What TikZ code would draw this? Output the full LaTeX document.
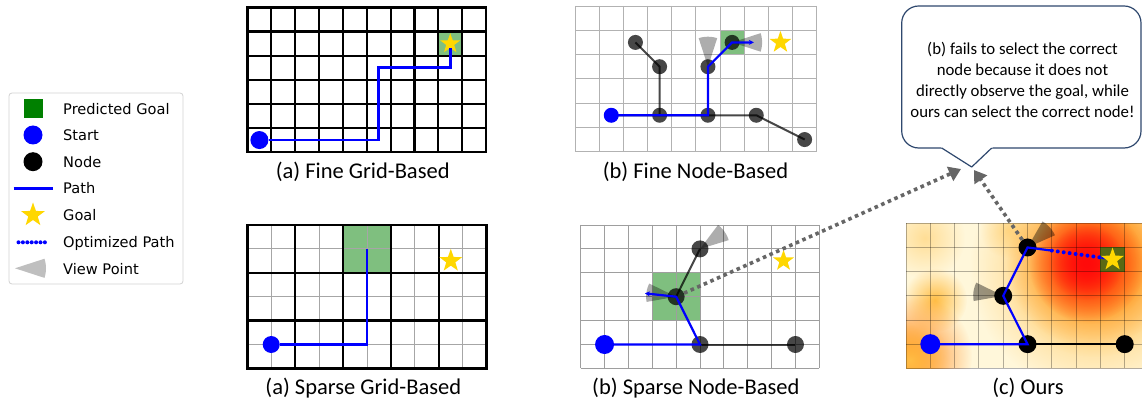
\documentclass[tikz,border=0pt]{standalone}
\usepackage{fontspec}
\newfontfamily\calibfont{Carlito}
\newfontfamily\legendfont{DejaVu Sans}
\usetikzlibrary{shapes.geometric,arrows.meta,fadings}

\definecolor{goalgreen}{RGB}{0,128,0}
\definecolor{startblue}{RGB}{0,0,255}
\definecolor{stargold}{RGB}{255,215,0}
\definecolor{linkgray}{RGB}{102,102,102}
\definecolor{bubbleblue}{RGB}{47,72,110}
\definecolor{legendframe}{RGB}{210,210,210}
\definecolor{heatbase}{RGB}{255,247,218}
\definecolor{heatpale}{RGB}{255,222,150}
\definecolor{heatwarm}{RGB}{255,190,70}
\definecolor{heatorange}{RGB}{255,130,15}
\definecolor{heatred}{RGB}{255,10,10}
\definecolor{heatgoal}{RGB}{90,105,20}

\tikzfading[name=softblob, inner color=transparent!0, outer color=transparent!100]

% field-of-view wedge: [extra style]{apex}{direction, counter-clockwise}{radius}
% (the picture's y axis points down, so the polar angles are negated)
\newcommand\viewcone[4][]{%
  \fill[conefill,#1] (#2.center) -- +(-#3-18:#4) -- +(-#3-12:#4) -- +(-#3-6:#4)
    -- +(-#3:#4) -- +(-#3+6:#4) -- +(-#3+12:#4) -- +(-#3+18:#4) -- cycle;}

\tikzset{
  gridbold/.style={line width=2.2pt, line cap=rect},
  gridbolder/.style={line width=2.5pt, line cap=rect},
  gridfaint/.style={draw=black!35, line width=0.9pt},
  gridlight/.style={draw=black!30, line width=0.9pt},
  gridheat/.style={draw=black, draw opacity=0.3, line width=0.9pt},
  goalcell/.style={fill=goalgreen, fill opacity=0.5},
  startdot/.style={circle, fill=startblue, inner sep=0pt, minimum size=18pt},
  graynode/.style={circle, fill=black, fill opacity=0.72, inner sep=0pt, minimum size=15pt},
  blacknode/.style={circle, fill=black, inner sep=0pt, minimum size=18pt},
  goalstar/.style={star, star points=5, star point ratio=2.5, fill=stargold, inner sep=0pt, minimum size=22pt},
  edgegray/.style={draw=black, draw opacity=0.72, line width=2pt},
  edgeblack/.style={draw=black, line width=2pt},
  bluepath/.style={draw=startblue, line width=2.2pt},
  bluearrow/.style={bluepath, -{Stealth[length=5pt,width=5pt]}},
  optpath/.style={draw=startblue, line width=4pt, line cap=round, dash pattern=on 0pt off 6pt},
  conefill/.style={fill=black, fill opacity=0.32},
  linkarrow/.style={draw=linkgray, line width=3.6pt, dash pattern=on 3.6pt off 3.6pt,
    -{Triangle[length=12pt,width=15pt]}},
  paneltitle/.style={font=\calibfont\fontsize{22.5pt}{26pt}\selectfont, anchor=base, inner sep=0pt},
  legendtext/.style={font=\legendfont\fontsize{14.6pt}{17pt}\selectfont, anchor=base west, inner sep=0pt},
  bubbletext/.style={font=\calibfont\fontsize{16.8pt}{20.8pt}\selectfont, align=center, inner sep=0pt},
}

\begin{document}
\begin{tikzpicture}[x=1pt,y=-1pt]
\useasboundingbox (0,0) rectangle (1142,403);
\fill[white] (0,0) rectangle (1142,403);

% ---------------- legend ----------------
\node[draw=legendframe, line width=0.8pt, rounded corners=3pt, fill=white,
      minimum width=174pt, minimum height=191pt, inner sep=0pt] (legend) at (96,188.5) {};
\node[fill=goalgreen, minimum size=19pt, inner sep=0pt] (lgGoalBox) at (33,108.3) {};
\node[startdot, minimum size=19pt] (lgStart) at (33,135) {};
\node[blacknode, minimum size=19pt] (lgNode) at (33,161.7) {};
\coordinate (lgPathA) at (13.5,188.3);
\coordinate (lgPathB) at (52.5,188.3);
\draw[bluepath, line width=2.8pt] (lgPathA) -- (lgPathB);
\node[goalstar, minimum size=25pt] (lgStar) at (33,215) {};
\coordinate (lgOptA) at (18.5,242.3);
\coordinate (lgOptB) at (49,242.3);
\draw[optpath, dash pattern=on 0pt off 4.4pt] (lgOptA) -- (lgOptB);
\coordinate (lgView) at (15,268.3);
\viewcone[fill opacity=0.25]{lgView}{0}{31}
\node[legendtext] (lgT1) at (63,115) {Predicted Goal};
\node[legendtext] (lgT2) at (63,141) {Start};
\node[legendtext] (lgT3) at (63,167.3) {Node};
\node[legendtext] (lgT4) at (63,194) {Path};
\node[legendtext] (lgT5) at (63,221) {Goal};
\node[legendtext] (lgT6) at (63,247.3) {Optimized Path};
\node[legendtext] (lgT7) at (63,274) {View Point};

% ---------------- (a) fine grid ----------------
\begin{scope}[shift={(247.5,7.5)}, x=23.85pt, y=-24.1pt]
  \fill[goalcell] (8,1) rectangle (9,2);
  \foreach \i in {0,...,10} \draw[gridbold] (\i,0) -- (\i,6);
  \foreach \j in {0,...,6} \draw[gridbold] (0,\j) -- (10,\j);
  \coordinate (fa1) at (5.5,5.5);
  \coordinate (fa2) at (5.5,2.5);
  \coordinate (fa3) at (8.5,2.5);
  \node[startdot, minimum size=18pt] (faS) at (0.5,5.5) {};
  \node[goalstar, minimum size=21pt] (faG) at (8.5,1.5) {};
  \draw[bluepath, line width=2.7pt] (faS) -- (fa1) -- (fa2) -- (fa3) -- (faG);
\end{scope}
\node[paneltitle] (titleFG) at (362.7,178.5) {(a) Fine Grid-Based};

% ---------------- (a) sparse grid ----------------
\begin{scope}[shift={(247.3,225)}, x=23.94pt, y=-23.9pt]
  \fill[goalcell] (4,0) rectangle (6,2);
  \foreach \i in {1,3,...,9} \draw[gridfaint] (\i,0) -- (\i,6);
  \foreach \j in {1,3,5} \draw[gridfaint] (0,\j) -- (10,\j);
  \foreach \i in {0,2,...,10} \draw[gridbolder] (\i,0) -- (\i,6);
  \foreach \j in {0,2,4,6} \draw[gridbolder] (0,\j) -- (10,\j);
  \coordinate (sa1) at (5,5);
  \coordinate (sa2) at (5,1);
  \node[startdot, minimum size=17pt] (saS) at (1,5) {};
  \node[goalstar, minimum size=24pt] (saG) at (8.5,1.5) {};
  \draw[bluepath, line width=2.5pt] (saS) -- (sa1) -- (sa2);
\end{scope}
\node[paneltitle] (titleSG) at (363.3,394.5) {(a) Sparse Grid-Based};

% ---------------- (b) fine node ----------------
\begin{scope}[shift={(575,6)}, x=24.17pt, y=-24.28pt]
  \fill[goalcell] (6,1) rectangle (7,2);
  \foreach \i in {0,...,10} \draw[gridlight] (\i,0) -- (\i,6);
  \foreach \j in {0,...,6} \draw[gridlight] (0,\j) -- (10,\j);
  \coordinate (fS) at (1.5,4.5);
  \coordinate (fn1) at (2.5,1.5);
  \coordinate (fn2) at (3.5,2.5);
  \coordinate (fn3) at (3.5,4.5);
  \coordinate (fn4) at (5.5,2.5);
  \coordinate (fn5) at (5.5,4.5);
  \coordinate (fn6) at (6.5,1.5);
  \coordinate (fn7) at (7.5,4.5);
  \coordinate (fn8) at (9.5,5.5);
  \coordinate (fArrow) at (7.4,1.5);
  \node[goalstar, minimum size=23pt] (fG) at (8.5,1.5) {};
\end{scope}
\draw[edgegray] (fn1) -- (fn2) -- (fn3);
\draw[edgegray] (fS) -- (fn3) -- (fn5) -- (fn7) -- (fn8);
\viewcone{fn4}{90}{30}
\viewcone{fn6}{0}{30}
\foreach \n in {fn1,fn2,fn3,fn4,fn5,fn6,fn7,fn8}
  \node[graynode] (\n dot) at (\n) {};
\draw[bluearrow] (fS) -- (fn5) -- (fn4) -- (fn6) -- (fArrow);
\node[startdot, minimum size=15pt] (fSdot) at (fS) {};
\node[paneltitle] (titleFN) at (695.5,178.5) {(b) Fine Node-Based};

% ---------------- (b) sparse node ----------------
\begin{scope}[shift={(580.7,225)}, x=23.86pt, y=-23.9pt]
  \fill[goalcell] (3,2) rectangle (5,4);
  \foreach \i in {0,...,10} \draw[gridlight, draw=black!38] (\i,0) -- (\i,6);
  \foreach \j in {0,...,6} \draw[gridlight, draw=black!38] (0,\j) -- (10,\j);
  \coordinate (sS) at (1,5);
  \coordinate (sa) at (5,5);
  \coordinate (sb) at (9,5);
  \coordinate (sc) at (4,3);
  \coordinate (sd) at (5,1);
  \coordinate (sArrow) at (2.69,2.86);
  \node[goalstar, minimum size=22pt] (sG) at (8.5,1.5) {};
\end{scope}
\draw[edgegray] (sa) -- (sb);
\draw[edgegray] (sc) -- (sd);
\viewcone{sd}{35}{30}
\viewcone{sc}{172}{30}
\node[graynode, minimum size=17pt] (saDot) at (sa) {};
\node[graynode, minimum size=17pt] (sbDot) at (sb) {};
\node[graynode, minimum size=17pt] (scDot) at (sc) {};
\node[graynode, minimum size=17pt] (sdDot) at (sd) {};
\coordinate (tipA) at (961,169);
\draw[linkarrow] (scDot) -- (tipA);
\draw[bluearrow] (sS) -- (sa) -- (sc) -- (sArrow);
\node[startdot, minimum size=19pt] (sSdot) at (sS) {};
\node[paneltitle] (titleSN) at (695.8,394.5) {(b) Sparse Node-Based};

% ---------------- (c) ours ----------------
\begin{scope}
  \clip (906,223.3) rectangle (1142,368.3);
  \fill[heatbase] (906,223.3) rectangle (1142,368.3);
  \fill[heatpale, path fading=softblob] (925,238) circle (40);
  \fill[heatpale, path fading=softblob] (1008,230) circle (28);
  \fill[heatwarm, path fading=softblob] (935,300) circle (32);
  \fill[heatorange, path fading=softblob] (910,356) circle (62);
  \fill[heatwarm, path fading=softblob] (910,360) circle (40);
  \fill[heatwarm, path fading=softblob] (1095,268) circle (125);
  \fill[heatwarm, path fading=softblob] (1095,262) circle (95);
  \fill[heatorange, path fading=softblob] (1092,262) circle (85);
  \fill[heatorange, path fading=softblob] (1090,262) circle (62);
  \fill[heatred, path fading=softblob] (1087,264) circle (58);
  \fill[heatred, path fading=softblob] (1086,262) circle (38);
  \begin{scope}[shift={(906,223.3)}, x=24.3pt, y=-24.17pt]
    \fill[heatgoal] (8,1) rectangle (9,2);
    \foreach \i in {0,...,10} \draw[gridheat] (\i,0) -- (\i,6);
    \foreach \j in {0,...,6} \draw[gridheat] (0,\j) -- (10,\j);
    \coordinate (cS) at (1,5);
    \coordinate (ca) at (5,5);
    \coordinate (cb) at (9,5);
    \coordinate (cc) at (4,3);
    \coordinate (cd) at (5,1);
    \coordinate (cOptA) at (6,1.13);
    \coordinate (cOptB) at (8.05,1.42);
    \coordinate (cGoal) at (8.5,1.5);
  \end{scope}
\end{scope}
\draw[edgeblack] (ca) -- (cb);
\viewcone[fill opacity=0.4]{cd}{42}{30}
\viewcone[fill opacity=0.4]{cc}{172}{30}
\node[blacknode] (caDot) at (ca) {};
\node[blacknode] (cbDot) at (cb) {};
\node[blacknode] (ccDot) at (cc) {};
\node[blacknode] (cdDot) at (cd) {};
\coordinate (tipB) at (974,170);
\draw[linkarrow] (cdDot) -- (tipB);
\draw[bluepath] (cS) -- (ca) -- (cc) -- (cd) -- (cOptA);
\draw[optpath] (cOptA) -- (cOptB);
\draw[bluepath] (cOptB) -- (cGoal);
\node[goalstar, minimum size=24pt] (cG) at (cGoal) {};
\node[startdot, minimum size=20pt] (cSdot) at (cS) {};
\node[paneltitle] (titleC) at (1028,394.5) {(c) Ours};

% ---------------- speech bubble ----------------
\node[draw=bubbleblue, line width=1.2pt, rounded corners=17pt, fill=white,
      minimum width=239.3pt, minimum height=142pt, inner sep=0pt] (bubble) at (1021.35,77) {};
\coordinate (ptL) at (941.7,148);
\coordinate (ptT) at (971.7,167);
\coordinate (ptR) at (991.7,148);
\fill[white] (940,146.5) -- (ptT) -- (993.4,146.5) -- cycle;
\draw[bubbleblue, line width=1.2pt, line join=round] (ptL) -- (ptT) -- (ptR);
\node[bubbletext] (bubbleText) at (1022.5,80) {(b) fails to select the correct\\node because it does not\\directly observe the goal, while\\ours can select the correct node!};

\end{tikzpicture}
\end{document}
